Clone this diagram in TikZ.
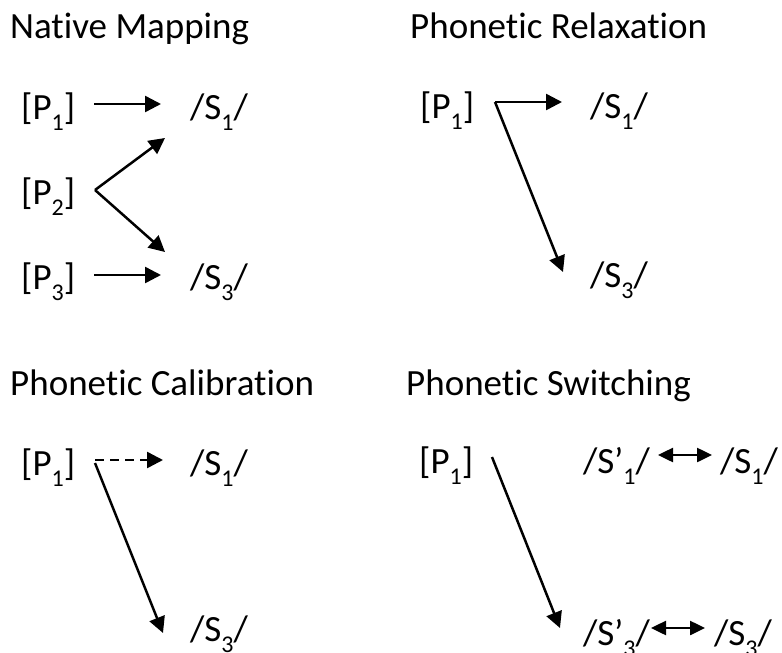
\documentclass[tikz,border=0pt]{standalone}
\usepackage{fontspec}
\setmainfont[Ligatures=NoCommon]{Carlito}
\usetikzlibrary{arrows.meta}
\newcommand{\sbs}[1]{\raisebox{-11pt}{\fontsize{24}{24}\selectfont #1}}
\begin{document}
\begin{tikzpicture}[x=1pt,y=-1pt,
  lbl/.style={anchor=base west,inner sep=0pt,font=\fontsize{37}{44}\selectfont},
  arr/.style={line width=2.5pt,-{Triangle[length=16pt,width=16pt]}},
  darr/.style={line width=2.5pt,{Triangle[length=15pt,width=14pt]}-{Triangle[length=15pt,width=14pt]}},
  dsh/.style={arr,dash pattern=on 9pt off 6pt}]
\useasboundingbox (0,0) rectangle (782,653);
% Panel A
\node[lbl] (tA) at (10,38) {Native Mapping};
\node[lbl] (aP1) at (21,119) {[P\sbs{1}]};
\node[lbl] (aP2) at (21,204) {[P\sbs{2}]};
\node[lbl] (aP3) at (21,289) {[P\sbs{3}]};
\node[lbl] (aS1) at (190,119) {/S\sbs{1}/};
\node[lbl] (aS3) at (190,289) {/S\sbs{3}/};
\coordinate (a1s) at (94,104); \coordinate (a1e) at (161,104);
\coordinate (a2s) at (95,190); \coordinate (a2e) at (165,138); \coordinate (a2f) at (165,252);
\coordinate (a3s) at (94,275); \coordinate (a3e) at (161,275);
\draw[arr] (a1s) -- (a1e);
\draw[arr] (a2s) -- (a2e);
\draw[arr] (a2s) -- (a2f);
\draw[arr] (a3s) -- (a3e);
% Panel B
\node[lbl] (tB) at (410,38) {Phonetic Relaxation};
\node[lbl] (bP1) at (420,118) {[P\sbs{1}]};
\node[lbl] (bS1) at (590,118) {/S\sbs{1}/};
\node[lbl] (bS3) at (590,287) {/S\sbs{3}/};
\coordinate (bs) at (495,102); \coordinate (be1) at (562,102); \coordinate (be3) at (563,272);
\draw[arr] (bs) -- (be1);
\draw[arr] (bs) -- (be3);
% Panel C
\node[lbl] (tC) at (10,395) {Phonetic Calibration};
\node[lbl] (cP1) at (21,475) {[P\sbs{1}]};
\node[lbl] (cS1) at (190,475) {/S\sbs{1}/};
\node[lbl] (cS3) at (190,641) {/S\sbs{3}/};
\coordinate (cs1) at (95,460); \coordinate (ce1) at (163,460);
\coordinate (cs3) at (95,463); \coordinate (ce3) at (163,633);
\draw[dsh] (cs1) -- (ce1);
\draw[arr] (cs3) -- (ce3);
% Panel D
\node[lbl] (tD) at (406,395) {Phonetic Switching};
\node[lbl] (dP1) at (419,473) {[P\sbs{1}]};
\node[lbl] (dQ1) at (583,473) {/S’\sbs{1}/};
\node[lbl] (dS1) at (720,473) {/S\sbs{1}/};
\node[lbl] (dQ3) at (583,645) {/S’\sbs{3}/};
\node[lbl] (dS3) at (714,645) {/S\sbs{3}/};
\coordinate (ds) at (492,457); \coordinate (de) at (560,628);
\draw[arr] (ds) -- (de);
\coordinate (d1a) at (658,455); \coordinate (d1b) at (712,455);
\coordinate (d3a) at (651,628); \coordinate (d3b) at (705,628);
\draw[darr] (d1a) -- (d1b);
\draw[darr] (d3a) -- (d3b);
\end{tikzpicture}
\end{document}
